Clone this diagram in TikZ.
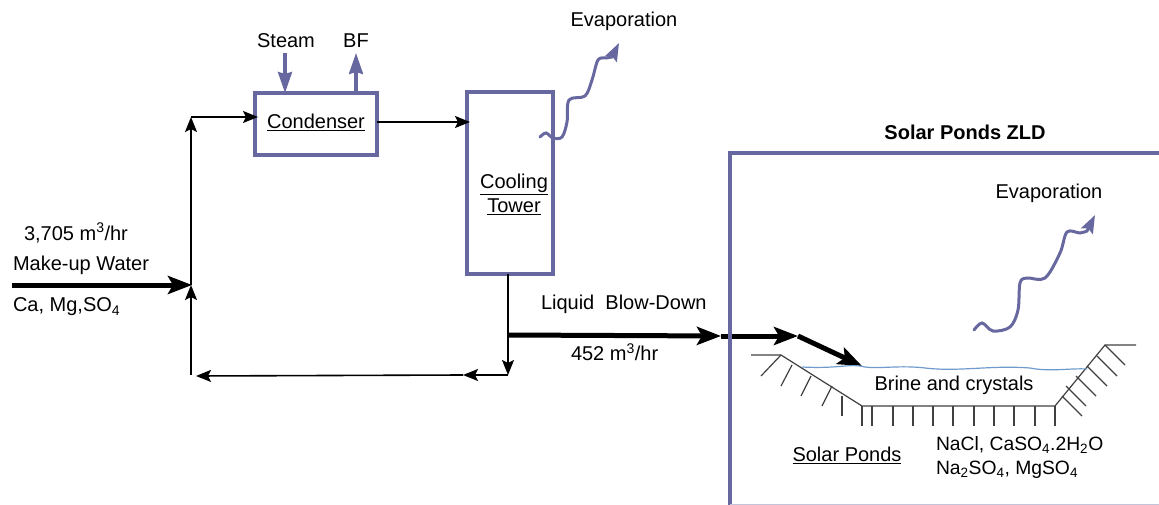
\documentclass[tikz,border=0pt]{standalone}
\usepackage{fontspec}
\setmainfont{Liberation Sans}
\usepackage{tikz}
\usetikzlibrary{arrows.meta,positioning,calc}

\definecolor{unitblue}{RGB}{104,104,160}
\definecolor{waterblue}{RGB}{110,155,205}

\begin{document}
\begin{tikzpicture}[x=1pt,y=-1pt,
  every node/.style={font=\fontsize{20}{22}\selectfont,inner sep=0pt,outer sep=0pt},
  unitbox/.style={draw=unitblue,line width=4pt,fill=none},
  thinflow/.style={draw=black,line width=1.6pt,-{Stealth[length=15pt,width=12pt,inset=3pt]}},
  heavyflow/.style={draw=black,line width=5pt,-{Stealth[length=24pt,width=18pt,inset=5pt]}},
  utilflow/.style={draw=unitblue,line width=3.2pt,-{Stealth[length=21pt,width=14pt,inset=2pt]}},
  vapour/.style={draw=unitblue,line width=3pt,line cap=round,-{Stealth[length=18pt,width=13pt,inset=3pt]}},
  saltlab/.style={anchor=west,font=\fontsize{19.3}{22}\selectfont},
  ground/.style={draw=black!75,line width=1.2pt}]
  \useasboundingbox (0,0) rectangle (1159,505);

  % units
  \node[unitbox,minimum width=122pt,minimum height=62pt] (condenser) at (316,124) {};
  \node[unitbox,minimum width=86pt,minimum height=182pt] (tower) at (510,183) {};
  \node (condenserlab) at (316,122) {\underline{Condenser}};
  \node (coolinglab) at (514,184) {\underline{Cooling}};
  \node (towerlab) at (514,207) {\underline{Tower}};

  % junctions
  \coordinate (feedstart) at (12,285);
  \coordinate (feedjoin) at (192,285);
  \coordinate (returnend) at (191,375);
  \coordinate (upjoin) at (191,285);
  \coordinate (upturn) at (191,117);
  \coordinate (condin) at (258,117);
  \coordinate (towerin) at (470,122);
  \coordinate (towerout) at (508,274);
  \coordinate (splitpt) at (508,335);
  \coordinate (returnpt) at (508,375);
  \coordinate (returnmid) at (463,375);
  \coordinate (returntip) at (196,376);
  \coordinate (pondbox) at (721,336);
  \coordinate (pondbend) at (798,336);
  \coordinate (pondin) at (862,366);

  % condenser loop
  \draw[heavyflow] (feedstart) -- (feedjoin);
  \draw[thinflow] (returnend) -- (upjoin);
  \draw[thinflow] (upjoin) -- (upturn);
  \draw[thinflow] (upturn) -- (condin);
  \draw[thinflow] (condenser.east |- towerin) -- (towerin);
  \draw[thinflow] (towerout) -- (returnpt);
  \draw[thinflow] (returnpt) -- (returnmid);
  \draw[thinflow] (returnmid) -- (returntip);

  % blow-down line
  \draw[heavyflow] (splitpt) -- (pondbox);
  \draw[heavyflow] (pondbox) -- (pondbend);
  \draw[heavyflow] (pondbend) -- (pondin);

  % steam and BF
  \node (steamlab) at (286,41) {Steam};
  \node (bflab) at (356,41) {BF};
  \coordinate (steamtop) at (285,53);
  \coordinate (bftop) at (356,53);
  \draw[utilflow] (steamtop) -- (steamtop |- condenser.north);
  \draw[utilflow] (bftop |- condenser.north) -- (bftop);

  % evaporation
  \node (evaplabA) at (624,21) {Evaporation};
  \node (evaplabB) at (1049,193) {Evaporation};
  \draw[vapour] plot[smooth,tension=0.55] coordinates {(540,137) (546,133) (553,138) (562,137) (567,122) (569,100) (585,96) (592,80) (598,60) (606,58) (612,57)} -- (619,43);
  \draw[vapour] plot[smooth,tension=0.55] coordinates {(974,330) (982,323) (993,331) (1010,327) (1018,310) (1020,283) (1027,278) (1045,278) (1060,253) (1067,232) (1080,233) (1087,231)} -- (1095,215);

  % solar pond enclosure
  \node[font=\fontsize{20}{22}\selectfont\bfseries] (zldlab) at (965,132) {Solar Ponds ZLD};
  \draw[draw=unitblue,line width=4pt] (1159,153) -- (730,153) -- (730,505);
  \draw[draw=unitblue!40,line width=1pt] (730,504) -- (1159,504);

  % pond
  \draw[ground] (751,355) -- (781,355) -- (862,406) -- (1055,406) -- (1105,345) -- (1136,345);
  \draw[ground] (781,355) -- (761,376);
  \draw[ground] (792,365) -- (781,386);
  \draw[ground] (811,376) -- (801,396);
  \draw[ground] (832,386) -- (822,406);
  \draw[ground] (842,396) -- (842,416);
  \foreach \x in {862,872,893,913,933,953,974,994,1014,1035,1055} {
    \draw[ground] (\x,406) -- (\x,426);
  }
  \foreach \x/\y in {1105/345,1097/356,1087/366,1076/376,1066/386,1062/396} {
    \draw[ground] (\x,\y) -- ($(\x,\y)+(20,20)$);
  }
  \draw[waterblue,line width=1.2pt] (802,367) .. controls (840,369) and (850,363) .. (865,367)
    .. controls (880,369) and (900,365) .. (925,368) .. controls (960,372) and (990,365) .. (1030,368)
    .. controls (1050,372) and (1070,368) .. (1087,369);

  % stream labels
  \node[anchor=west] (flowlab) at (24,233) {3,705 m\textsuperscript{3}/hr};
  \node[anchor=west] (makeuplab) at (13,265) {Make-up Water};
  \node[anchor=west] (ionlab) at (13,307) {Ca, Mg,SO\textsubscript{4}};
  \node[anchor=west] (blowlab) at (541,304) {Liquid\ \ Blow-Down};
  \node[anchor=west] (blowflowlab) at (571,352) {452 m\textsuperscript{3}/hr};
  \node (brinelab) at (954,385) {Brine and crystals};
  \node (pondlab) at (847,455) {\underline{Solar Ponds}};
  \node[saltlab] (saltlabA) at (936,445) {NaCl, CaSO\textsubscript{4}.2H\textsubscript{2}O};
  \node[saltlab] (saltlabB) at (936,470) {Na\textsubscript{2}SO\textsubscript{4}, MgSO\textsubscript{4}};
\end{tikzpicture}
\end{document}
